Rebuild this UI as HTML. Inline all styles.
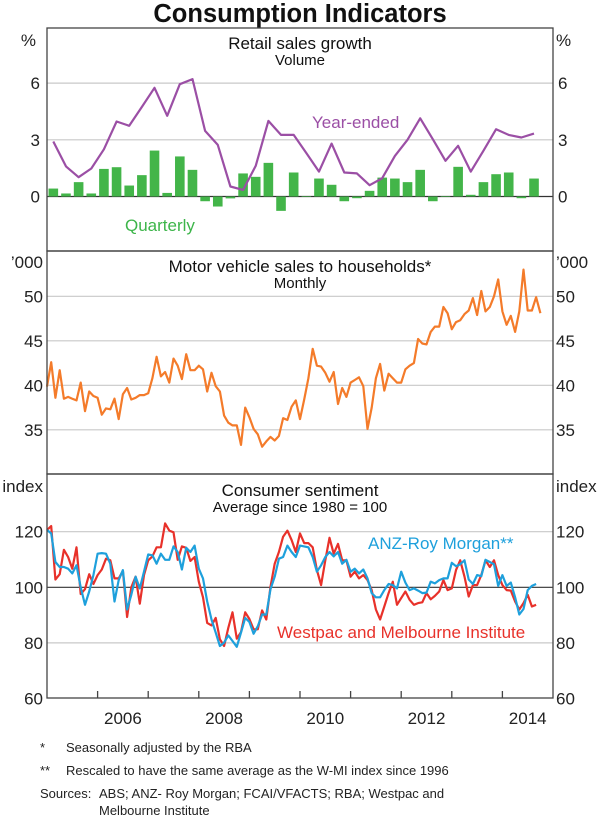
<!DOCTYPE html>
<html><head><meta charset="utf-8"><style>
html,body{margin:0;padding:0;background:#fff}
svg{display:block;font-family:"Liberation Sans",Arial,sans-serif}
</style></head><body>
<svg id="chart" width="600" height="816" viewBox="0 0 600 816" xmlns="http://www.w3.org/2000/svg">
<text x="300" y="22" text-anchor="middle" font-size="25.5" font-weight="bold" fill="#111">Consumption Indicators</text>
<g id="grid"></g>
<g id="marks"></g>
<g id="frame"></g>
<g id="labels" font-size="17" fill="#222"></g>
<g font-size="17" fill="#111" text-anchor="middle">
<text x="300" y="49">Retail sales growth</text>
<text x="300" y="65" font-size="15">Volume</text>
<text x="300" y="272">Motor vehicle sales to households*</text>
<text x="300" y="288" font-size="15">Monthly</text>
<text x="300" y="496">Consumer sentiment</text>
<text x="300" y="512" font-size="15">Average since 1980 = 100</text>
</g>
<g font-size="17">
<text x="125" y="231" fill="#3db54a">Quarterly</text>
<text x="312" y="128" fill="#9b4fa5">Year-ended</text>
<text x="368" y="549" fill="#1ea0dc">ANZ-Roy Morgan**</text>
<text x="277" y="638" fill="#e8312a">Westpac and Melbourne Institute</text>
</g>
<g font-size="13" fill="#222">
<text x="40" y="752">*</text>
<text x="66" y="752">Seasonally adjusted by the RBA</text>
<text x="40" y="775">**</text>
<text x="66" y="775">Rescaled to have the same average as the W-MI index since 1996</text>
<text x="40" y="798">Sources:</text>
<text x="99" y="798">ABS; ANZ- Roy Morgan; FCAI/VFACTS; RBA; Westpac and</text>
<text x="99" y="815">Melbourne Institute</text>
</g>
</svg>
<script>
const quarterlyGrowth=[0.42,0.16,0.76,0.16,1.46,1.55,0.58,1.13,2.43,0.19,2.12,1.41,-0.25,-0.53,-0.1,1.22,1.04,1.78,-0.76,1.27,0.02,0.95,0.62,-0.25,-0.09,0.3,1.0,0.95,0.76,1.41,-0.25,0.02,1.57,0.09,0.76,1.18,1.27,-0.09,0.95];
const yearEnded=[2.91,1.59,1.02,1.48,2.5,3.97,3.74,4.74,5.75,4.27,5.94,6.21,3.47,2.73,0.53,0.35,1.62,4.0,3.26,3.26,2.3,1.32,2.8,1.27,1.22,0.6,0.97,2.15,3.0,4.14,3.03,1.89,2.68,1.32,2.42,3.56,3.26,3.12,3.33];
const vehicleSales=[39.85,42.6,38.6,41.7,38.5,38.7,38.5,38.3,40.3,37.1,39.3,38.8,38.6,36.7,37.4,37.3,38.5,36.2,39.0,39.7,38.4,38.6,38.9,38.9,39.1,40.8,43.2,41.0,41.5,40.3,43.0,42.2,40.7,43.5,41.7,41.7,42.2,41.8,39.3,41.4,39.9,39.3,36.6,35.8,35.5,35.5,33.3,37.5,36.4,35.1,34.5,33.1,33.7,34.2,33.8,34.3,36.3,36.1,37.6,38.3,36.2,38.4,40.8,44.1,42.2,42.1,41.4,40.4,41.5,37.9,39.7,38.7,40.3,40.6,40.9,39.9,35.1,37.5,40.8,42.4,39.4,41.3,40.8,40.3,40.3,41.8,42.2,42.5,45.2,44.7,44.6,46.0,46.6,46.6,48.8,48.1,46.3,47.1,47.3,48.0,48.4,49.8,47.9,50.6,48.3,48.8,50.0,51.9,48.3,46.8,47.8,46.0,48.3,53.0,48.4,48.4,49.9,48.1];
const westpac=[120.6,122,102.8,104.7,113.5,110.9,106.7,114.4,97.6,99.3,104.7,101.2,104.4,106.4,110.3,109.7,103.2,103.2,105.9,89.3,100,103.8,94.1,104.4,109.7,111.1,114.4,114.4,123,120.4,119.8,109.9,114.7,114.2,109.5,110.9,102,96.4,87.2,86.3,89,81.3,78.9,85.4,91,81.5,83.9,91,88.6,84.9,84.9,91.7,88.4,100.2,108.5,112.7,118.2,120.4,117,112.7,119.4,115.9,115.9,114.4,106.2,100.8,109.7,117.8,112.1,115.6,109.7,109.7,103.8,105.6,103.2,104.4,102.6,99,92,88.4,93.1,97.9,102,93.7,96.1,98.5,95.5,93.7,94.3,94.6,97.9,95.7,96.9,98.5,102.6,99,99.6,106.2,109.7,103.8,96.7,100.8,100.8,104.4,109.7,107.3,109.7,104.4,100.8,99,98.8,94.9,92,94.3,97.3,93.1,93.7];
const anzRoyMorgan=[120.6,119.4,109.1,107.3,107.3,106.7,105,107.9,100,93.7,98.5,104.4,112.1,112.3,112.1,108.5,94.9,102.6,106.2,92,97.3,103.8,99.6,105.6,111.8,111.5,108.5,112.1,109.9,109.9,114.7,112.7,106.4,114.2,112.7,115,106.7,103.2,94.9,88.4,83.7,78.9,80.1,82.7,80.7,78.6,83.7,89,87.5,83.3,86,90.2,90.2,99.3,103.8,110.3,110.9,115,112.7,110.9,115,114.7,114.4,110.9,105.6,107.9,110.9,112.7,111.1,112.7,108.5,109.9,105.6,106.7,105,106.4,103.2,97.9,96.4,96.4,99,101.2,100.8,99.6,105.6,101.7,99,99.6,98.8,97.9,98.1,102,101.4,102.6,103.2,103.2,108.8,107.6,108.3,109.7,102.8,101.2,104.4,104,109.9,109.1,108.3,100.5,104.4,100.5,101.7,96.4,90.2,92.2,99,100.5,101.2];
const yearLabels=["2006","2008","2010","2012","2014"];
const retailTicks=[0,3,6];
const vehicleTicks=[35,40,45,50];
const sentimentTicks=[60,80,100,120];

const NS="http://www.w3.org/2000/svg";
const L=47,R=553;
const xT=t=>L+(t-2005)*(R-L)/10;
const xQ=i=>xT(2005+(i+0.5)/4);
const xM=i=>xT(2005+(i+0.5)/12)-2.1;
const P1={top:28,bot:251},P2={top:251,bot:474},P3={top:474,bot:698};
const y1=v=>196.5-v*18.9;
const y2=v=>296.3-(v-50)*8.9;
const y3=v=>587.3-(v-100)*2.78;
function mk(parent,tag,attrs){const e=document.createElementNS(NS,tag);for(const k in attrs)e.setAttribute(k,attrs[k]);document.getElementById(parent).appendChild(e);return e;}
retailTicks.forEach(v=>{const e=mk('grid','line',{x1:L,x2:R,y1:y1(v),y2:y1(v),stroke:v===0?'#333':'#c8c8c8','stroke-width':1.2});

});
vehicleTicks.forEach(v=>{const e=mk('grid','line',{x1:L,x2:R,y1:y2(v),y2:y2(v),stroke:'#c8c8c8','stroke-width':1.2});

});
sentimentTicks.forEach(v=>{if(v===60)return;const e=mk('grid','line',{x1:L,x2:R,y1:y3(v),y2:y3(v),stroke:v===100?'#333':'#c8c8c8','stroke-width':1.2});

});
quarterlyGrowth.forEach((v,i)=>{const a=y1(0),b=y1(v);const e=mk('marks','rect',{x:xQ(i)-4.8,width:9.6,y:Math.min(a,b),height:Math.max(Math.abs(a-b),0.6),fill:'#43b549'});

});
function line(data,xf,yf,color,name){const d=data.map((v,i)=>(i?'L':'M')+xf(i).toFixed(1)+' '+yf(v).toFixed(1)).join('');const e=mk('marks','path',{d:d,fill:'none',stroke:color,'stroke-width':2.2,'stroke-linejoin':'round'});

}
line(yearEnded,xQ,y1,'#9b4fa5','year-ended-line');
line(vehicleSales,xM,y2,'#f47b2a','vehicle-sales-line');
line(westpac,xM,y3,'#e8312a','westpac-line');
line(anzRoyMorgan,xM,y3,'#1ea0dc','anz-roy-morgan-line');
[[P1.top,P1.bot],[P2.top,P2.bot],[P3.top,P3.bot]].forEach(p=>{const e=mk('frame','rect',{x:L,y:p[0],width:R-L,height:p[1]-p[0],fill:'none',stroke:'#444','stroke-width':1.3});

});
for(let yr=2006;yr<=2014;yr++){const e=mk('frame','line',{x1:xT(yr),x2:xT(yr),y1:P3.bot,y2:P3.bot-7,stroke:'#444','stroke-width':1.3});

}
function txt(x,y,s,anchor,name){const e=mk('labels','text',{x:x,y:y,'text-anchor':anchor});e.textContent=s;

}
retailTicks.forEach(v=>{txt(40,y1(v)+6,String(v),'end','retail-tick-left');txt(558,y1(v)+6,String(v),'start','retail-tick-right');});
vehicleTicks.forEach(v=>{txt(43,y2(v)+6,String(v),'end','vehicle-tick-left');txt(556,y2(v)+6,String(v),'start','vehicle-tick-right');});
sentimentTicks.forEach(v=>{txt(43,y3(v)+6,String(v),'end','sentiment-tick-left');txt(556,y3(v)+6,String(v),'start','sentiment-tick-right');});
txt(36,46,'%','end','retail-unit-left');txt(556,46,'%','start','retail-unit-right');
txt(43,268,'\u2019000','end','vehicle-unit-left');txt(556,268,'\u2019000','start','vehicle-unit-right');
txt(43,492,'index','end','sentiment-unit-left');txt(556,492,'index','start','sentiment-unit-right');
yearLabels.forEach(s=>{const yr=+s;txt(xT(yr+0.5),724,s,'middle','year-label');});
</script>
</body></html>
